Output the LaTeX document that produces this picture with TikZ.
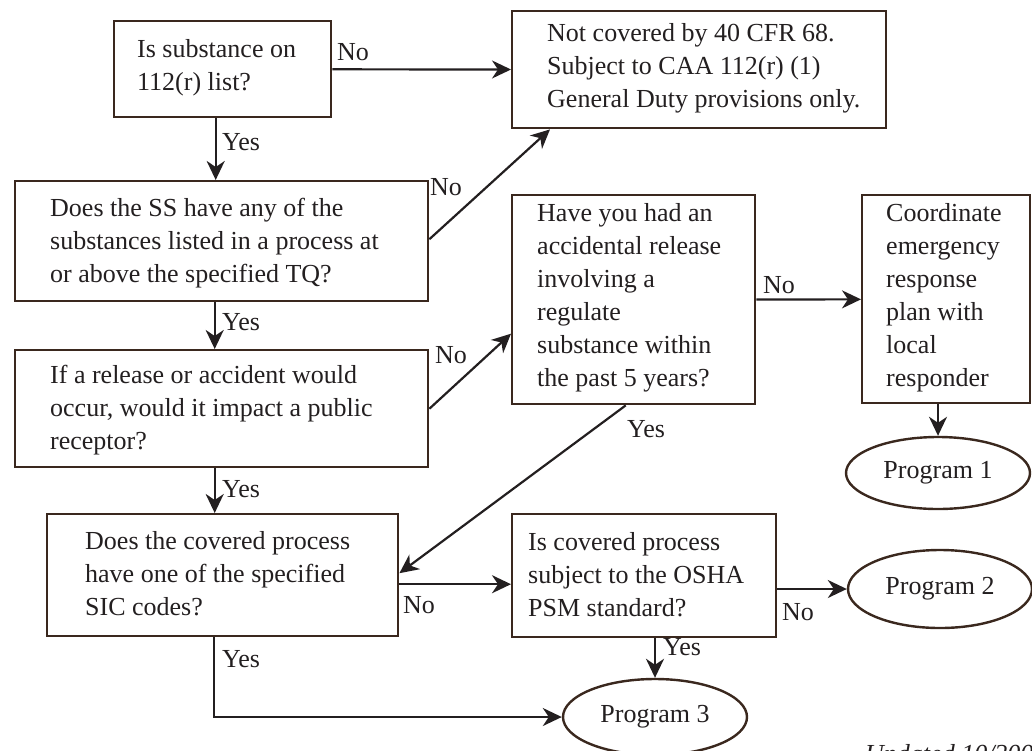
\documentclass[tikz,border=0pt]{standalone}
\usepackage{fontspec}
\setmainfont{Liberation Serif}
\usetikzlibrary{arrows.meta, shapes.geometric, calc}
\definecolor{boxbrown}{RGB}{58,40,30}
\definecolor{inkgray}{RGB}{35,31,32}
\tikzset{
  qbox/.style={draw=boxbrown, line width=2.4pt, inner sep=0pt, anchor=north west},
  qtext/.style={anchor=west, align=left, inner sep=0pt, text=inkgray},
  prog/.style={ellipse, draw=boxbrown, line width=2.4pt, inner sep=0pt, text=inkgray,
    minimum width=184pt, minimum height=76pt},
  link/.style={draw=inkgray, line width=2.2pt, -{Stealth[length=19pt, width=18pt, inset=6pt]}},
  ans/.style={anchor=base west, inner sep=0pt, text=inkgray}
}
\begin{document}
\begin{tikzpicture}[x=1pt, y=-1pt, font=\fontsize{26}{33}\selectfont]
  \useasboundingbox (0,0) rectangle (1032,750);
  \node[qbox, minimum width=217pt, minimum height=96pt] (sub) at (113,20) {};
  \node[qtext] (sub-t) at (137,68) {Is substance on\\112(r) list?};
  \node[qbox, minimum width=374pt, minimum height=117pt] (notcov) at (511,10) {};
  \node[qtext] (notcov-t) at (547,68) {Not covered by 40 CFR 68.\\Subject to CAA 112(r) (1)\\General Duty provisions only.};
  \node[qbox, minimum width=413pt, minimum height=120pt] (tq) at (14,180) {};
  \node[qtext] (tq-t) at (50,243) {Does the SS have any of the\\substances listed in a process at\\or above the specified TQ?};
  \node[qbox, minimum width=413pt, minimum height=117pt] (recep) at (14,349) {};
  \node[qtext] (recep-t) at (50,410) {If a release or accident would\\occur, would it impact a public\\receptor?};
  \node[qbox, minimum width=243pt, minimum height=209pt] (accid) at (511,194) {};
  \node[qtext] (accid-t) at (537,298) {Have you had an\\accidental release\\involving a\\regulate\\substance within\\the past 5 years?};
  \node[qbox, minimum width=168pt, minimum height=208pt] (coord) at (861,194) {};
  \node[qtext] (coord-t) at (886,298) {Coordinate\\emergency\\response\\plan with\\local\\responder};
  \node[prog, minimum height=72pt] (prog1) at (938,473) {Program 1};
  \node[qbox, minimum width=351pt, minimum height=122pt] (sic) at (46,513) {};
  \node[qtext] (sic-t) at (85,574) {Does the covered process\\have one of the specified\\SIC codes?};
  \node[qbox, minimum width=264pt, minimum height=123pt] (psm) at (511,513) {};
  \node[qtext] (psm-t) at (528,575) {Is covered process\\subject to the OSHA\\PSM standard?};
  \node[prog, minimum height=78pt] (prog2) at (940,589) {Program 2};
  \node[prog] (prog3) at (655,717) {Program 3};

  \draw[link] (sub) -- (notcov);
  \draw[link] ([xshift=-7pt]sub.south) -- ([xshift=-7pt]sub.south |- tq.north);
  \draw[link] ([yshift=2pt]tq.east) -- ([xshift=39pt]notcov.south west);
  \draw[link] ([xshift=-7pt]tq.south) -- ([xshift=-7pt]tq.south |- recep.north);
  \draw[link] (recep.east) -- ([yshift=-34pt]accid.west);
  \draw[link] ([xshift=-7pt]recep.south) -- ([xshift=-7pt]recep.south |- sic.north);
  \draw[link] (accid) -- (coord);
  \draw[link] (prog1.north |- coord.south) -- (prog1.north);
  \draw[link] ([xshift=-8pt]accid.south) -- ([yshift=2pt]sic.east);
  \draw[link] ([yshift=-9pt]sic.east) -- ([yshift=-9pt]sic.east -| psm.west);
  \draw[link] (prog2.west -| psm.east) -- (prog2.west);
  \draw[link] (prog3.north |- psm.south) -- (prog3.north);
  \draw[link] ([xshift=-8.5pt]sic.south) |- (prog3.west);

  \node[ans] (no1) at (337,60) {No};
  \node[ans] (yes1) at (222,150) {Yes};
  \node[ans] (no2) at (430,195) {No};
  \node[ans] (yes2) at (222,330) {Yes};
  \node[ans] (no3) at (435,363) {No};
  \node[ans] (yes3) at (222,497) {Yes};
  \node[ans] (no4) at (763,293) {No};
  \node[ans] (yes4) at (627,437) {Yes};
  \node[ans] (no5) at (403,613) {No};
  \node[ans] (yes5) at (222,667) {Yes};
  \node[ans] (no6) at (782,620) {No};
  \node[ans] (yes6) at (663,655) {Yes};
  \node[ans, font=\fontsize{26}{33}\selectfont\itshape] (upd) at (865,762) {Updated 10/2003};
\end{tikzpicture}
\end{document}
